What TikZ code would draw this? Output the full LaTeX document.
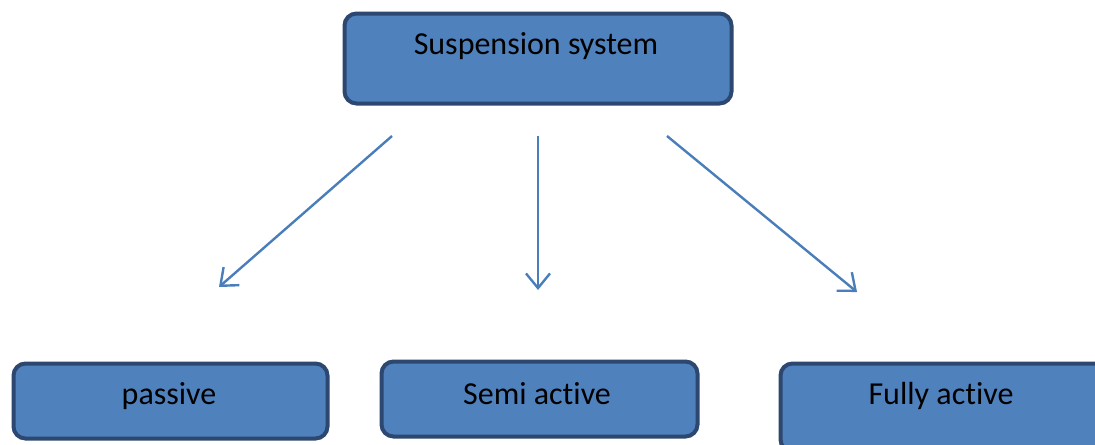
\documentclass[tikz,border=0pt]{standalone}
\usepackage{fontspec}
\setmainfont[Ligatures=NoCommon]{Carlito}
\usetikzlibrary{arrows.meta}
\definecolor{boxfill}{HTML}{4F81BD}
\definecolor{boxline}{HTML}{2C4770}
\definecolor{arrowcol}{HTML}{4A7EBB}
\begin{document}
\begin{tikzpicture}[x=0.75pt,y=-0.75pt,
  catbox/.style={draw=boxline,fill=boxfill,line width=3pt,rounded corners=9pt,inner sep=0pt},
  lbl/.style={font=\fontsize{24}{28}\selectfont,text=black,inner sep=0pt},
  conn/.style={draw=arrowcol,line width=1.8pt,-{Straight Barb[length=11pt,width=18pt,line width=1.8pt]}}]
\useasboundingbox (0,0) rectangle (1095,444);
% boxes
\node[catbox,minimum width=387*0.75pt,minimum height=90*0.75pt,anchor=north west] (top) at (342.5,11.5) {};
\node[lbl] (toptext) at (536,46) {Suspension system};
\node[catbox,minimum width=314*0.75pt,minimum height=75*0.75pt,anchor=north west] (passive) at (11.5,361.5) {};
\node[lbl] (passivetext) at (169,396) {passive};
\node[catbox,minimum width=316*0.75pt,minimum height=75*0.75pt,anchor=north west] (semi) at (379.5,359.5) {};
\node[lbl] (semitext) at (537,394) {Semi active};
\node[catbox,minimum width=326*0.75pt,minimum height=88*0.75pt,anchor=north west] (fully) at (778.5,361.5) {};
\node[lbl] (fullytext) at (941,396) {Fully active};
% arrows
\coordinate (a1s) at (392,136); \coordinate (a1e) at (219,287);
\coordinate (a2s) at (538,136); \coordinate (a2e) at (538,290);
\coordinate (a3s) at (667,136); \coordinate (a3e) at (857,292);
\draw[conn] (a1s) -- (a1e);
\draw[conn] (a2s) -- (a2e);
\draw[conn] (a3s) -- (a3e);
\end{tikzpicture}
\end{document}
